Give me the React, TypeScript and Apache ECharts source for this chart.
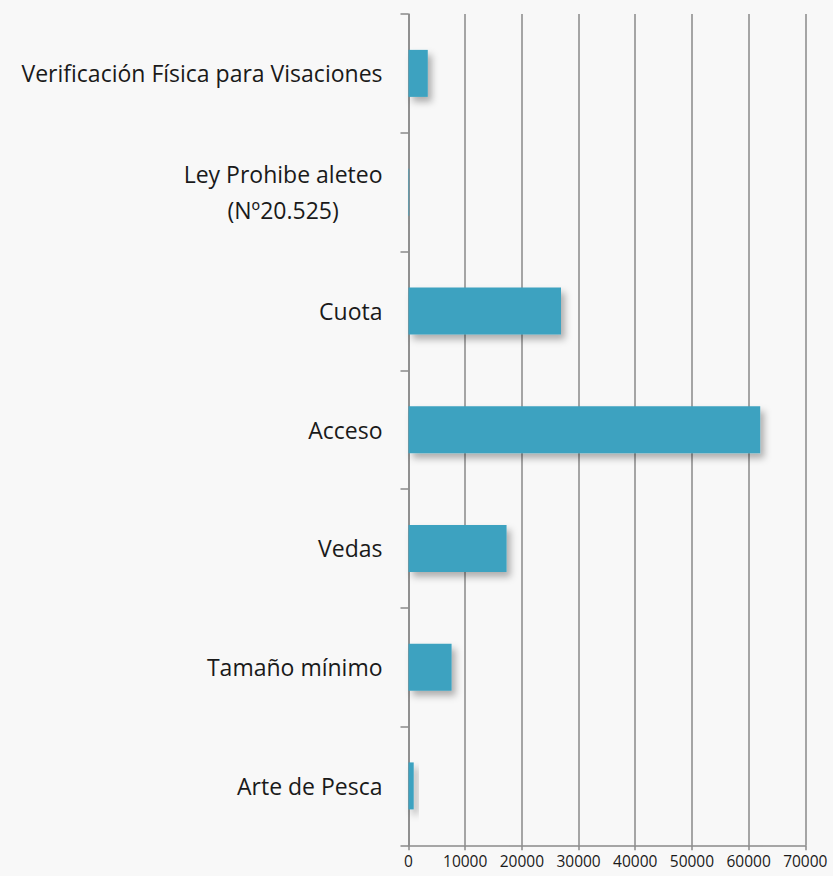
import React, { useEffect, useRef } from "react";
import * as echarts from "echarts";

const categories = [
  "Verificación Física para Visaciones",
  "Ley Prohibe aleteo\n(Nº20.525)",
  "Cuota",
  "Acceso",
  "Vedas",
  "Tamaño mínimo",
  "Arte de Pesca",
];
const values = [3400, 120, 26900, 62050, 17300, 7600, 920];
const xTicks = { min: 0, max: 70000, interval: 10000 };

const FONT = "Open Sans";

export default function App() {
  const ref = useRef<HTMLDivElement>(null);
  useEffect(() => {
    document.body.style.margin = "0";
    const chart = echarts.init(ref.current!, null, { renderer: "svg" });
    chart.setOption({
      animation: false,
      backgroundColor: "#f8f8f8",
      textStyle: { fontFamily: FONT },
      grid: { left: 408.5, right: 27.7, top: 14, bottom: 30.7, containLabel: false },
      xAxis: {
        type: "value",
        min: xTicks.min,
        max: xTicks.max,
        interval: xTicks.interval,
        axisLine: { show: true, lineStyle: { color: "#8a8a8a", width: 1.5 } },
        axisTick: { show: true, length: 5, lineStyle: { color: "#8a8a8a", width: 1.5 } },
        splitLine: { show: true, lineStyle: { color: "#8a8a8a", width: 1.5 } },
        axisLabel: {
          color: "#1a1a1a",
          fontSize: 15.5,
          fontFamily: FONT,
          margin: 8,
          formatter: (v: number) => String(v),
        },
      },
      yAxis: {
        type: "category",
        inverse: true,
        data: categories,
        axisLine: { show: true, lineStyle: { color: "#8a8a8a", width: 1.5 } },
        axisTick: { show: true, length: 8, alignWithLabel: false, lineStyle: { color: "#8a8a8a", width: 1.5 } },
        axisLabel: {
          color: "#1a1a1a",
          fontSize: 23,
          fontFamily: FONT,
          margin: 26,
          formatter: (v: string) =>
            v
              .split("\n")
              .map((l) => "{c|" + l + "}")
              .join("\n"),
          rich: {
            c: { fontSize: 23, fontFamily: FONT, color: "#1a1a1a", align: "center", lineHeight: 36 },
          },
        },
      },
      series: [
        {
          type: "bar",
          data: values,
          barWidth: 47,
          itemStyle: {
            color: "#3ca2c0",
            shadowBlur: 7,
            shadowColor: "rgba(0,0,0,0.3)",
            shadowOffsetX: 4,
            shadowOffsetY: 5,
          },
        },
      ],
    });
    return () => chart.dispose();
  }, []);
  return <div ref={ref} style={{ width: 833, height: 876 }} />;
}
